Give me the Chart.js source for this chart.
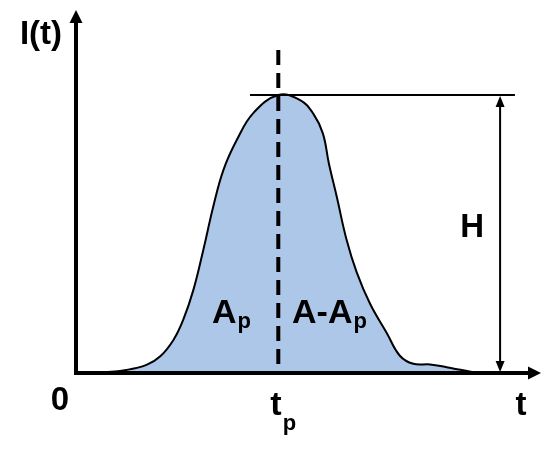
<!DOCTYPE html>
<html>
<head>
<meta charset="utf-8">
<script src="https://cdn.jsdelivr.net/npm/chart.js@4.4.1/dist/chart.umd.min.js"></script>
<style>
  html, body { margin: 0; padding: 0; background: #ffffff; }
  #wrap { width: 550px; height: 452px; position: relative; }
</style>
</head>
<body>
<div id="wrap"><canvas id="c"></canvas></div>
<script>
// ---- data (time in arbitrary units, intensity normalised to the peak height H = 1) ----
const tValues = [0.45, 1.09, 1.52, 1.81, 2.10, 2.31, 2.53, 2.74, 2.96, 3.18, 3.47, 3.82, 4.36,
                 4.83, 5.11, 5.32, 5.45, 5.62, 5.83, 6.05, 6.34, 6.70, 6.98, 7.27, 7.63, 7.99, 8.64];
const iValues = [0.000, 0.011, 0.029, 0.059, 0.119, 0.191, 0.299, 0.440, 0.600, 0.732, 0.840, 0.935, 1.000,
                 0.982, 0.934, 0.862, 0.754, 0.634, 0.480, 0.362, 0.248, 0.143, 0.062, 0.033, 0.031, 0.021, 0.000];
const tPeak = 4.36;        // t_p
const peakH = 1.0;         // H
const xAxisMax = 10;
const yAxisMax = 1.306;
const axisLabels = { y: 'I(t)', origin: '0', x: 't', tp: 't', tpSub: 'p', H: 'H' };

const points = tValues.map((t, i) => ({ x: t, y: iValues[i] }));

const FONT = '"Liberation Sans", Arial, sans-serif';

function arrowHead(ctx, tipX, tipY, dir, len, half) {
  ctx.beginPath();
  if (dir === 'up') {
    ctx.moveTo(tipX, tipY); ctx.lineTo(tipX - half, tipY + len); ctx.lineTo(tipX + half, tipY + len);
  } else if (dir === 'down') {
    ctx.moveTo(tipX, tipY); ctx.lineTo(tipX - half, tipY - len); ctx.lineTo(tipX + half, tipY - len);
  } else {
    ctx.moveTo(tipX, tipY); ctx.lineTo(tipX - len, tipY - half); ctx.lineTo(tipX - len, tipY + half);
  }
  ctx.closePath();
  ctx.fill();
}

function textWithSub(ctx, main, sub, x, y, mainSize, subSize, subDrop) {
  ctx.font = 'bold ' + mainSize + 'px ' + FONT;
  ctx.textAlign = 'left';
  ctx.textBaseline = 'alphabetic';
  ctx.fillText(main, x, y);
  const w = ctx.measureText(main).width;
  ctx.font = 'bold ' + subSize + 'px ' + FONT;
  ctx.fillText(sub, x + w + 1, y + subDrop);
}

const decor = {
  id: 'decor',
  afterDatasetsDraw(chart) {
    const ctx = chart.ctx;
    const xs = chart.scales.x, ys = chart.scales.y;
    const x0 = xs.getPixelForValue(0), y0 = ys.getPixelForValue(0);
    const xTip = xs.getPixelForValue(xAxisMax), yTip = ys.getPixelForValue(yAxisMax);
    const xp = xs.getPixelForValue(tPeak), yH = ys.getPixelForValue(peakH);
    ctx.save();
    ctx.fillStyle = '#000';
    ctx.strokeStyle = '#000';

    // dashed line at t_p
    ctx.lineWidth = 4;
    ctx.setLineDash([15, 8]);
    ctx.beginPath();
    ctx.moveTo(xp, 50);
    ctx.lineTo(xp, y0 + 2);
    ctx.stroke();
    ctx.setLineDash([]);

    // horizontal line at peak
    ctx.lineWidth = 2;
    ctx.beginPath();
    ctx.moveTo(xs.getPixelForValue(3.75), yH);
    ctx.lineTo(xs.getPixelForValue(9.46), yH);
    ctx.stroke();

    // H double arrow
    const xhA = xs.getPixelForValue(9.14);
    ctx.beginPath();
    ctx.moveTo(xhA, yH + 8);
    ctx.lineTo(xhA, y0 - 8);
    ctx.stroke();
    arrowHead(ctx, xhA, yH + 1, 'up', 11, 4.5);
    arrowHead(ctx, xhA, y0 - 1, 'down', 11, 4.5);

    // axes
    ctx.lineWidth = 4;
    ctx.beginPath();
    ctx.moveTo(x0, y0 + 2);
    ctx.lineTo(x0, yTip + 10);
    ctx.stroke();
    ctx.beginPath();
    ctx.moveTo(x0 - 2, y0);
    ctx.lineTo(xTip - 10, y0);
    ctx.stroke();
    arrowHead(ctx, x0, yTip, 'up', 13, 6.5);
    arrowHead(ctx, xTip + 1, y0, 'right', 13, 6.5);

    // labels
    ctx.textBaseline = 'alphabetic';
    ctx.font = 'bold 33px ' + FONT;
    ctx.textAlign = 'center';
    ctx.fillText(axisLabels.y, 41, 44);
    ctx.fillText(axisLabels.origin, 60, 410);
    ctx.fillText(axisLabels.x, 521, 415);
    ctx.fillText(axisLabels.H, xhA - 28, 237);
    textWithSub(ctx, axisLabels.tp, axisLabels.tpSub, xp - 8, 415, 34, 22, 15);
    textWithSub(ctx, 'A', 'p', 212, 323, 34, 22, 5);
    textWithSub(ctx, 'A-A', 'p', 292, 323, 34, 22, 5);
    ctx.restore();
  }
};

new Chart(document.getElementById('c'), {
  type: 'scatter',
  data: {
    datasets: [{
      data: points,
      showLine: true,
      borderColor: '#000000',
      borderWidth: 2,
      backgroundColor: '#adc7e9',
      fill: 'origin',
      pointRadius: 0,
      tension: 0.4
    }]
  },
  options: {
    responsive: true,
    maintainAspectRatio: false,
    animation: false,
    layout: { padding: { left: 76, right: 10, top: 10, bottom: 79 } },
    plugins: { legend: { display: false }, tooltip: { enabled: false } },
    scales: {
      x: { type: 'linear', min: 0, max: xAxisMax, display: false },
      y: { type: 'linear', min: 0, max: yAxisMax, display: false }
    }
  },
  plugins: [decor]
});
</script>
</body>
</html>
